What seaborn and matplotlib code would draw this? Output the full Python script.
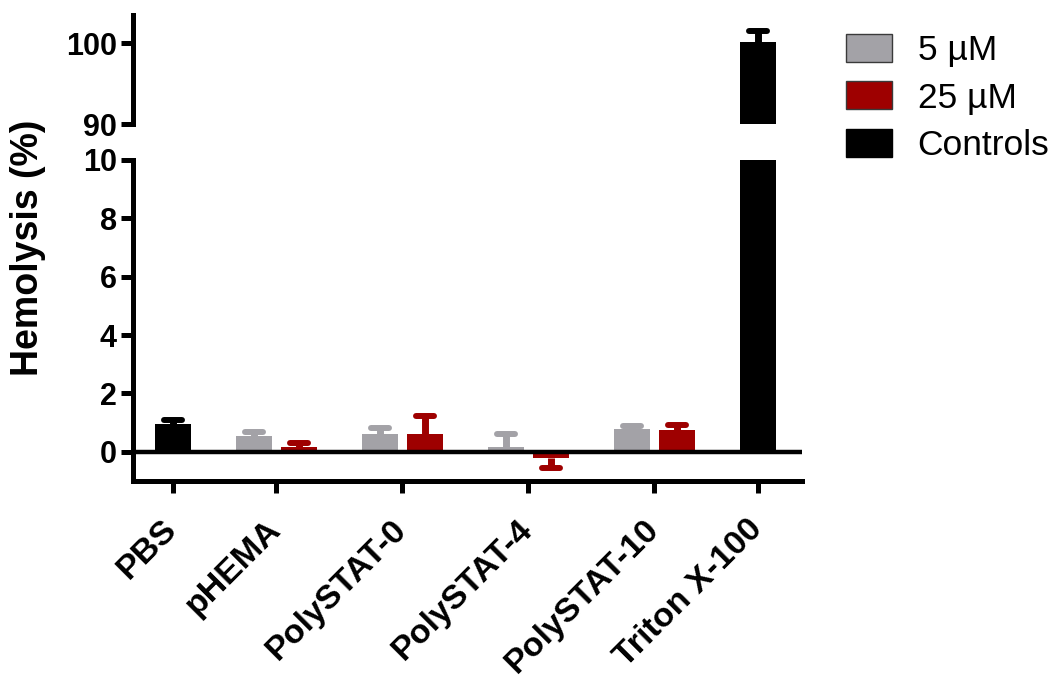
import numpy as np
import pandas as pd
import matplotlib
matplotlib.use("Agg")
import matplotlib.pyplot as plt
from matplotlib.markers import MarkerStyle
from matplotlib.patches import Patch
import seaborn as sns

# ---- data -------------------------------------------------------------
groups = ["PBS", "pHEMA", "PolySTAT-0", "PolySTAT-4", "PolySTAT-10", "Triton X-100"]
polymer_groups = ["pHEMA", "PolySTAT-0", "PolySTAT-4", "PolySTAT-10"]
control_groups = ["PBS", "Triton X-100"]

mean_5uM = [0.55, 0.62, 0.15, 0.78]
sd_5uM = [0.13, 0.18, 0.45, 0.11]
mean_25uM = [0.15, 0.62, -0.21, 0.73]
sd_25uM = [0.15, 0.61, 0.35, 0.18]
mean_controls = [0.96, 100.2]
sd_controls = [0.13, 1.3]

series_names = ["5 \u00b5M", "25 \u00b5M", "Controls"]
colors = {"5 \u00b5M": "#A3A2A7", "25 \u00b5M": "#9E0000", "Controls": "#000000"}

# ---- layout of group centres along x ---------------------------------
centers = dict(zip(groups, [0.0, 2.3, 5.1, 7.9, 10.7, 13.0]))

rows = []
for g, m, s in zip(polymer_groups, mean_5uM, sd_5uM):
    rows.append((g, series_names[0], m, s, centers[g] - 0.5))
for g, m, s in zip(polymer_groups, mean_25uM, sd_25uM):
    rows.append((g, series_names[1], m, s, centers[g] + 0.5))
for g, m, s in zip(control_groups, mean_controls, sd_controls):
    rows.append((g, series_names[2], m, s, centers[g]))
df = pd.DataFrame(rows, columns=["group", "series", "mean", "sd", "pos"])

# ---- style ------------------------------------------------------------
sns.set_theme(style="white")
plt.rcParams["font.family"] = ["Liberation Sans", "DejaVu Sans"]
plt.rcParams.update({
    "text.color": "black",
    "axes.labelcolor": "black",
    "axes.edgecolor": "black",
    "xtick.color": "black",
    "ytick.color": "black",
})
LW = 3.6

fig = plt.figure(figsize=(10.58, 6.83), dpi=100)
ax_top = fig.add_axes([0.1257, 0.8184, 0.632, 0.1596])
ax_bot = fig.add_axes([0.1257, 0.2958, 0.632, 0.470])

cap_marker = MarkerStyle("_", capstyle="round")

for ax in (ax_top, ax_bot):
    sns.barplot(data=df, x="pos", y="mean", hue="series", palette=colors,
                hue_order=series_names, native_scale=True, dodge=False,
                errorbar=None, width=0.8, orient="x", legend=False,
                saturation=1, linewidth=0, ax=ax)
    # one-sided error bars, pointing away from zero
    ends = df["mean"] + np.sign(df["mean"]) * df["sd"]
    for ser in series_names:
        sub = df["series"] == ser
        ax.vlines(df.loc[sub, "pos"], df.loc[sub, "mean"], ends[sub],
                  color=colors[ser], lw=5.0, zorder=3)
        ax.plot(df.loc[sub, "pos"], ends[sub], ls="none", marker=cap_marker,
                ms=13, mew=4.3, color=colors[ser], zorder=3)
    ax.set_xlim(-0.88, 13.98)
    ax.set_xlabel("")
    ax.set_ylabel("")
    for side in ("top", "right"):
        ax.spines[side].set_visible(False)
    ax.spines["left"].set_linewidth(LW)
    ax.spines["bottom"].set_linewidth(LW)
    ax.tick_params(axis="y", direction="out", length=8.6, width=LW, pad=3,
                   labelsize=22, left=True, colors="black")

# upper panel: 90-100 range
ax_top.set_ylim(90, 103.5)
ax_top.set_yticks([90, 100])
ax_top.spines["bottom"].set_visible(False)
ax_top.set_xticks([])
ax_top.set_yticklabels(["90", "100"], fontweight="bold", fontsize=22)

# lower panel: -1 to 10 range
ax_bot.set_ylim(-1, 10)
ax_bot.set_yticks([0, 2, 4, 6, 8, 10])
ax_bot.set_yticklabels(["0", "2", "4", "6", "8", "10"], fontweight="bold", fontsize=22)
ax_bot.axhline(0, color="black", lw=3.2, zorder=4)
ax_bot.set_xticks([centers[g] for g in groups])
ax_bot.set_xticklabels(groups, rotation=45, ha="right", va="center",
                       rotation_mode="anchor", fontweight="bold", fontsize=24.5)
ax_bot.tick_params(axis="x", direction="out", length=8.6, width=LW, pad=23,
                   bottom=True, colors="black")

fig.text(28 / 1058, 1 - 247.5 / 683, "Hemolysis (%)", rotation=90,
         ha="center", va="center", fontsize=27, fontweight="bold", color="black")

handles = [Patch(facecolor=colors[s], edgecolor="#3a3a3a" if s != "Controls" else "black",
                 linewidth=1.0, label=s) for s in series_names]
fig.legend(handles=handles, loc="upper left", bbox_to_anchor=(846 / 1058, 1 - 34 / 683),
           frameon=False, fontsize=25.5, handlelength=1.3, handleheight=0.84,
           handletextpad=0.72, labelspacing=0.4, borderpad=0, borderaxespad=0,
           labelcolor="black")

fig.savefig("out.png", dpi=100)
